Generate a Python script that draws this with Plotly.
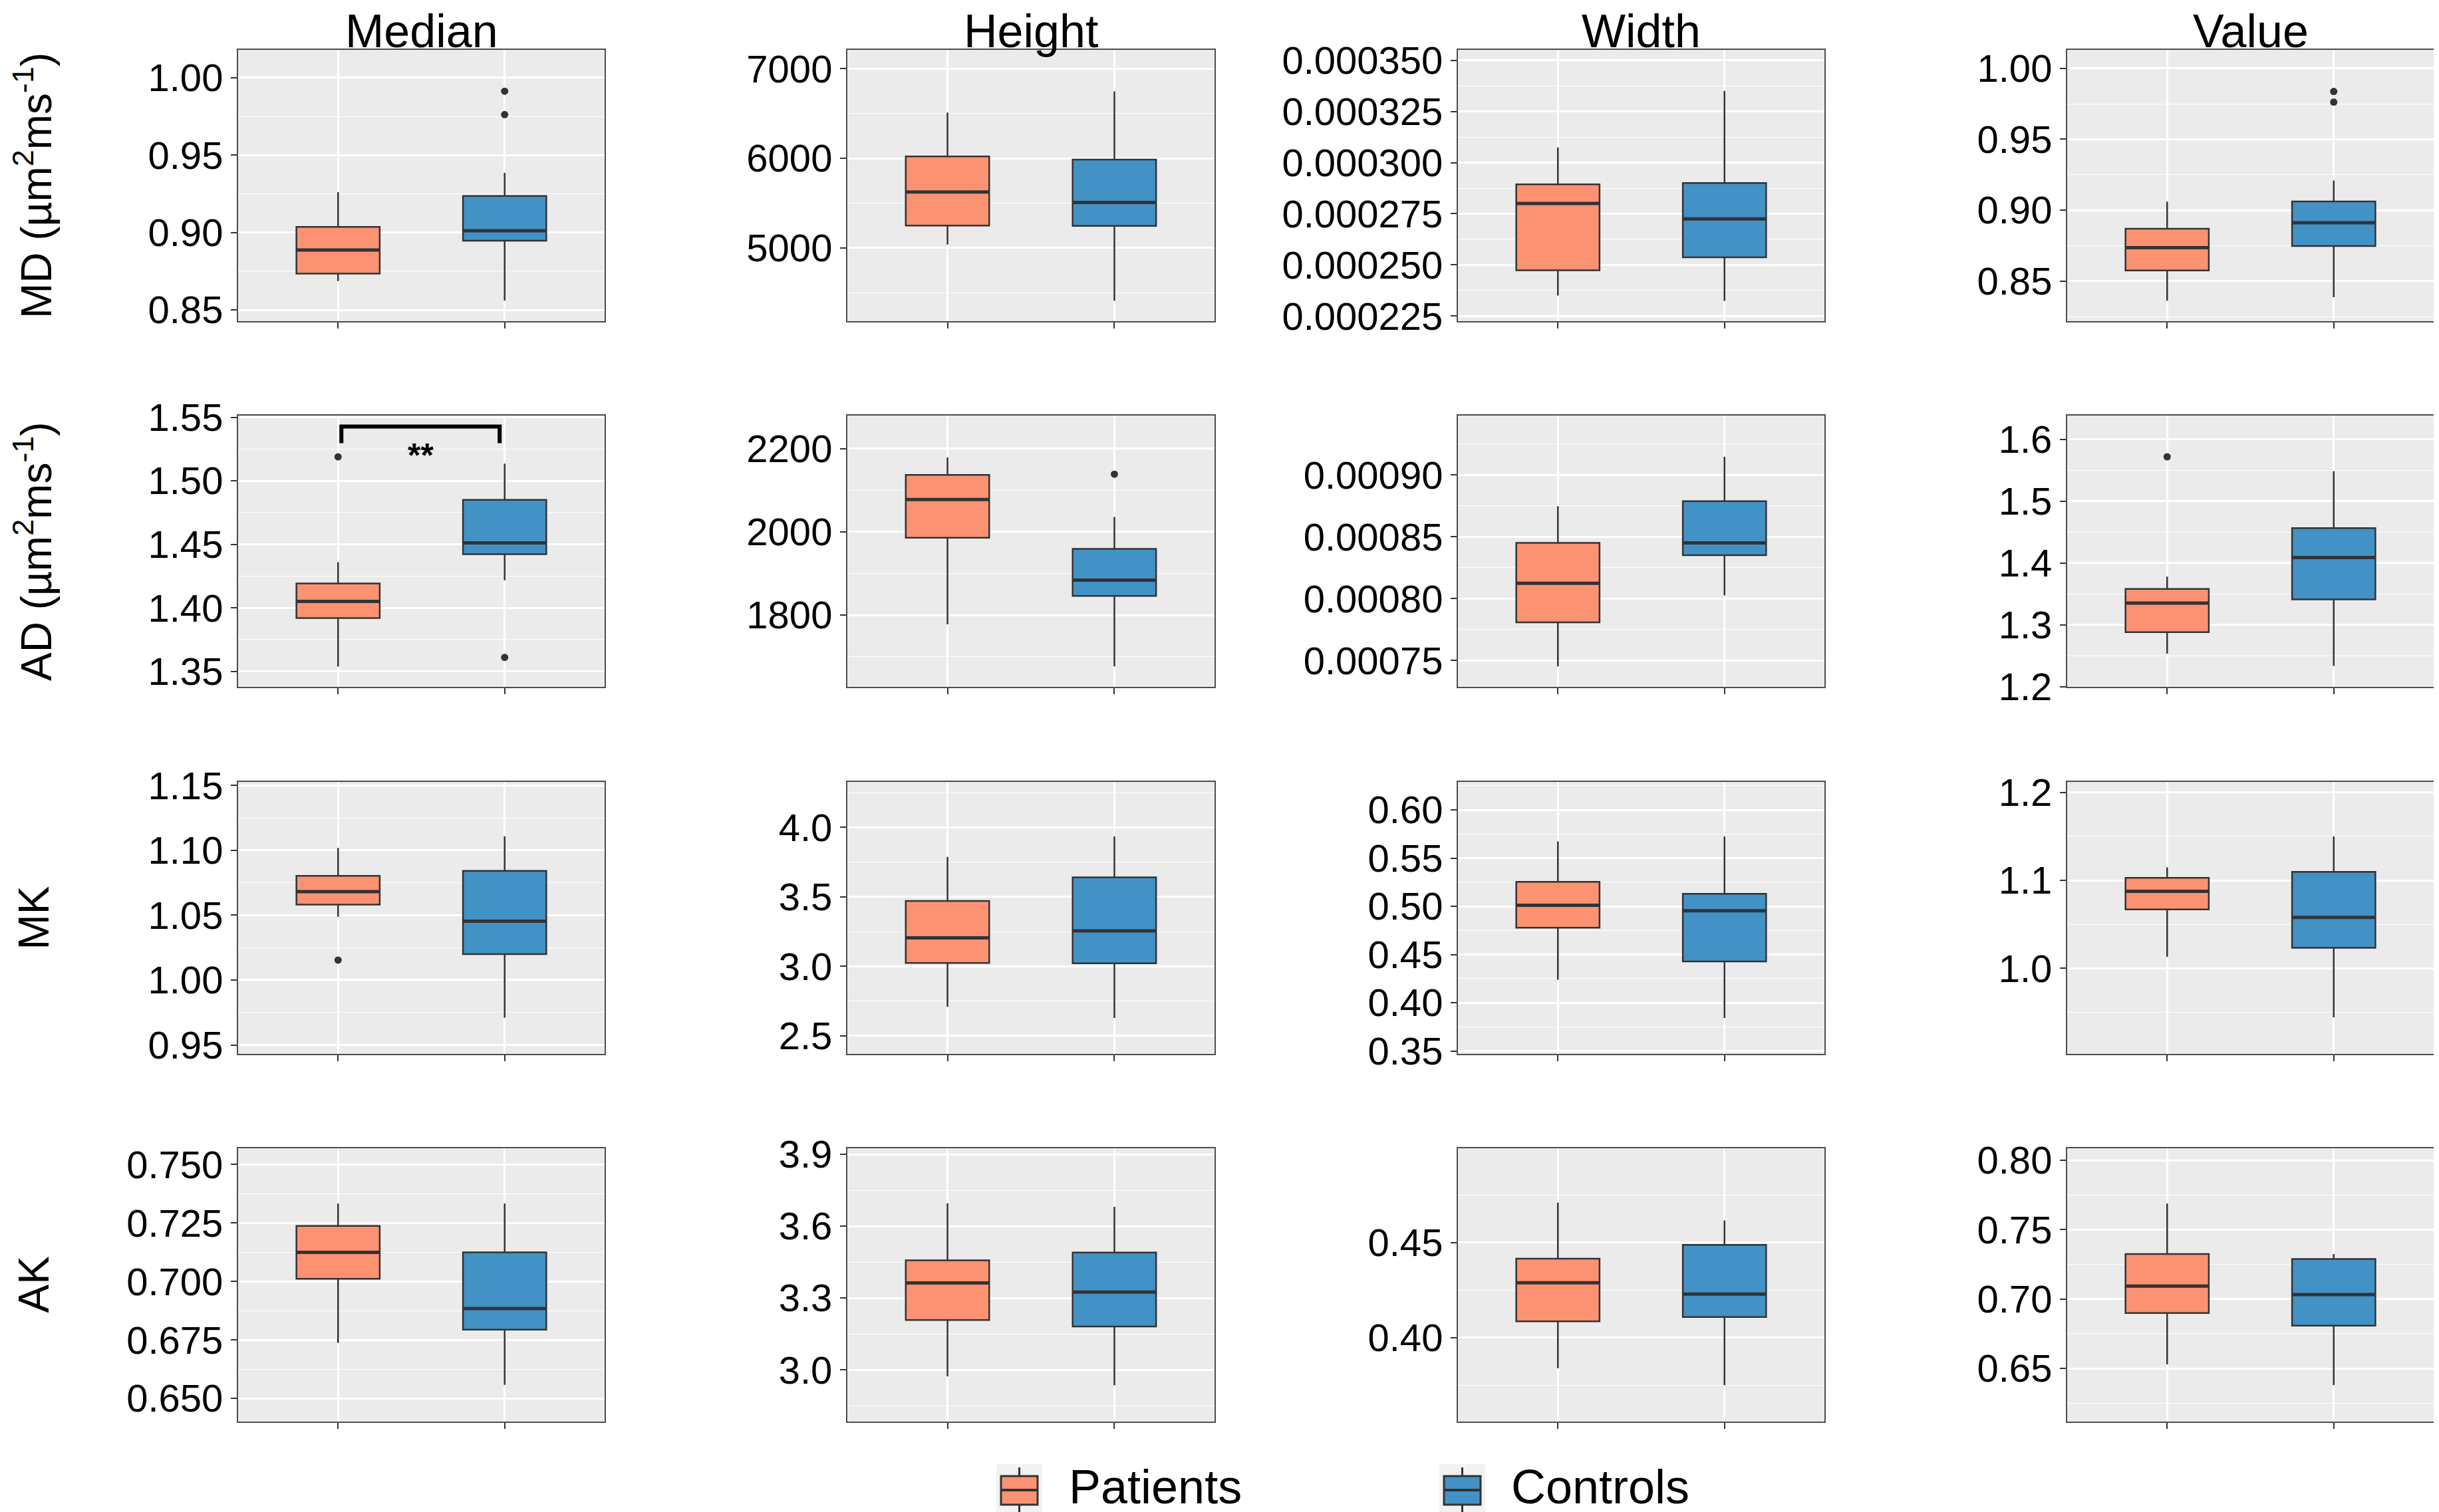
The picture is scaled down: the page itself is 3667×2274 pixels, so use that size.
import plotly.graph_objects as go
from plotly.subplots import make_subplots

W, H = 3667, 2274
OFF = 8  # browser body margin offset of the figure on the page
FONT = "Liberation Sans, Arial, sans-serif"

# ---------------- data ----------------
measures = ["Median", "Height", "Width", "Value"]
metrics = ["MD", "AD", "MK", "AK"]
row_titles = ["MD (\u00b5m<sup>2</sup>ms<sup>-1</sup>)", "AD (\u00b5m<sup>2</sup>ms<sup>-1</sup>)", "MK", "AK"]
groups = ["Patients", "Controls"]
group_x = [1, 2]
colors = ["#FC9272", "#4292C6"]

# panels in row-major order: MD-Median, MD-Height, MD-Width, MD-Value, AD-..., MK-..., AK-...
pat_low = [0.8686, 5037, 0.0002350, 0.8362, 1.3538, 1778, 0.0007451, 1.2534,
           1.0488, 2.709, 0.4238, 1.0131, 0.6737, 2.973, 0.3839, 0.6529]
pat_q1 = [0.8734, 5250, 0.0002474, 0.8575, 1.3920, 1986, 0.0007808, 1.2880,
          1.0581, 3.025, 0.4777, 1.0670, 0.7011, 3.208, 0.4085, 0.6899]
pat_med = [0.8887, 5625, 0.0002800, 0.8736, 1.4051, 2078, 0.0008124, 1.3350,
           1.0681, 3.205, 0.5010, 1.0875, 0.7124, 3.363, 0.4288, 0.7094]
pat_q3 = [0.9036, 6022, 0.0002894, 0.8869, 1.4192, 2137, 0.0008450, 1.3580,
          1.0803, 3.471, 0.5254, 1.1028, 0.7237, 3.457, 0.4415, 0.7325]
pat_high = [0.9260, 6512, 0.0003074, 0.9060, 1.4360, 2179, 0.0008746, 1.3778,
            1.1019, 3.788, 0.5673, 1.1148, 0.7333, 3.695, 0.4709, 0.7689]

con_low = [0.8560, 4410, 0.0002324, 0.8387, 1.4217, 1677, 0.0008025, 1.2333,
           0.9710, 2.629, 0.3841, 0.9443, 0.6558, 2.935, 0.3749, 0.6379]
con_q1 = [0.8947, 5245, 0.0002537, 0.8748, 1.4423, 1846, 0.0008351, 1.3409,
          1.0200, 3.022, 0.4427, 1.0233, 0.6794, 3.181, 0.4108, 0.6809]
con_med = [0.9011, 5508, 0.0002725, 0.8911, 1.4512, 1884, 0.0008450, 1.4086,
           1.0454, 3.255, 0.4953, 1.0580, 0.6884, 3.325, 0.4228, 0.7033]
con_q3 = [0.9236, 5986, 0.0002900, 0.9061, 1.4851, 1959, 0.0008788, 1.4563,
          1.0842, 3.640, 0.5130, 1.1097, 0.7124, 3.490, 0.4487, 0.7289]
con_high = [0.9385, 6747, 0.0003350, 0.9209, 1.5136, 2036, 0.0009146, 1.5484,
            1.1108, 3.935, 0.5725, 1.1500, 0.7333, 3.681, 0.4616, 0.7325]

# outliers: panel index -> values
pat_outliers = {4: [1.5189], 7: [1.5717], 8: [1.0154]}
con_outliers = {0: [0.9913, 0.9762], 3: [0.9837, 0.9762], 4: [1.3610], 5: [2138.7]}

# axis settings per panel
y_lo = [0.8427, 4182, 0.0002225, 0.8218, 1.3378, 1627.7, 0.0007286, 1.1995,
        0.9431, 2.3705, 0.3469, 0.9028, 0.6401, 2.784, 0.3558, 0.6117]
y_hi = [1.0180, 7211, 0.0003551, 1.0130, 1.5514, 2279.5, 0.0009480, 1.6384,
        1.1527, 4.327, 0.6290, 1.2119, 0.7569, 3.925, 0.4995, 0.8087]
y_dtick = [0.05, 1000, 0.000025, 0.05, 0.05, 200, 0.00005, 0.1,
           0.05, 0.5, 0.05, 0.1, 0.025, 0.3, 0.05, 0.05]
y_fmt = [".2f", "d", ".6f", ".2f", ".2f", "d", ".5f", ".1f",
         ".2f", ".1f", ".2f", ".1f", ".3f", ".1f", ".2f", ".2f"]

# significance annotation (AD - Median)
sig_panel = 4
sig_x = [1.02, 1.97]
sig_y = 1.5427
sig_tip = 1.5297
sig_label = "**"
sig_label_y = 1.520


# ---------------- layout geometry (page pixels) ----------------
def px(x):
    return (x - OFF) / W


def py(y):
    return 1 - (y - OFF) / H


col_px = [(358, 909), (1274, 1826), (2192, 2743), (3108, 3659)]
row_px = [(75, 483), (625, 1033), (1176, 1585), (1727, 2138)]

fig = make_subplots(rows=4, cols=4)

line_col = "#333333"
for i in range(16):
    r, c = divmod(i, 4)
    stats = [(pat_low, pat_q1, pat_med, pat_q3, pat_high, pat_outliers),
             (con_low, con_q1, con_med, con_q3, con_high, con_outliers)]
    for g, (lo, q1, md, q3, hi, outl) in enumerate(stats):
        fig.add_trace(go.Box(
            x=[group_x[g]], q1=[q1[i]], median=[md[i]], q3=[q3[i]],
            lowerfence=[lo[i]], upperfence=[hi[i]],
            width=0.5, whiskerwidth=0, boxpoints=False,
            fillcolor=colors[g], line=dict(color=line_col, width=2.5),
            name=groups[g], showlegend=False, hoverinfo="skip"),
            row=r + 1, col=c + 1)
        # thicker median line (ggplot style)
        fig.add_trace(go.Scatter(
            x=[group_x[g] - 0.25, group_x[g] + 0.25], y=[md[i], md[i]],
            mode="lines", line=dict(color=line_col, width=5),
            showlegend=False, hoverinfo="skip"),
            row=r + 1, col=c + 1)
        if i in outl:
            fig.add_trace(go.Scatter(
                x=[group_x[g]] * len(outl[i]), y=outl[i], mode="markers",
                marker=dict(color=line_col, size=11),
                showlegend=False, hoverinfo="skip"),
                row=r + 1, col=c + 1)

    xd = [px(col_px[c][0]), px(col_px[c][1])]
    yd = [py(row_px[r][1]), py(row_px[r][0])]
    fig.update_xaxes(domain=xd, range=[0.4, 2.6], tickvals=group_x,
                     showticklabels=False, ticks="outside", ticklen=9, tickwidth=2,
                     tickcolor=line_col, showgrid=True, gridcolor="white",
                     gridwidth=2.5, zeroline=False, showline=True, mirror=True,
                     linecolor="#4d4d4d", linewidth=2, automargin=False,
                     row=r + 1, col=c + 1)
    fig.update_yaxes(domain=yd, range=[y_lo[i], y_hi[i]], tick0=0,
                     dtick=y_dtick[i], tickformat=y_fmt[i], ticks="outside",
                     ticklen=9, tickwidth=2, tickcolor=line_col,
                     tickfont=dict(family=FONT, size=58, color="black"),
                     showgrid=True, gridcolor="white", gridwidth=2.5,
                     minor=dict(dtick=y_dtick[i] / 2, showgrid=True,
                                gridcolor="white", gridwidth=1.2, ticks=""),
                     zeroline=False, showline=True, mirror=True,
                     linecolor="#4d4d4d", linewidth=2, automargin=False,
                     row=r + 1, col=c + 1)

# significance bracket
sr, sc = divmod(sig_panel, 4)
fig.add_trace(go.Scatter(
    x=[sig_x[0], sig_x[0], sig_x[1], sig_x[1]],
    y=[sig_tip, sig_y, sig_y, sig_tip], mode="lines",
    line=dict(color="black", width=6), showlegend=False, hoverinfo="skip"),
    row=sr + 1, col=sc + 1)
fig.add_annotation(x=(sig_x[0] + sig_x[1]) / 2, y=sig_label_y, text="<b>" + sig_label + "</b>",
                   showarrow=False, font=dict(family=FONT, size=50, color="black"),
                   xref="x%d" % (sig_panel + 1), yref="y%d" % (sig_panel + 1))

annotations = []
# column titles
for c, t in enumerate(measures):
    annotations.append(dict(x=px((col_px[c][0] + col_px[c][1]) / 2), y=py(47),
                            xref="paper", yref="paper", text=t, showarrow=False,
                            xanchor="center", yanchor="middle",
                            font=dict(family=FONT, size=70, color="black")))
# row titles
for r, t in enumerate(row_titles):
    annotations.append(dict(x=px(50), y=py((row_px[r][0] + row_px[r][1]) / 2),
                            xref="paper", yref="paper", text=t, showarrow=False,
                            textangle=-90, xanchor="center", yanchor="middle",
                            font=dict(family=FONT, size=64, color="black")))

# custom legend (ggplot-like keys)
shapes = []
key_x = [(1498, 1567), (2164, 2233)]
text_x = [1605, 2270]
ky0, ky1 = 2202, 2278
for g in range(2):
    x0, x1 = key_x[g]
    xm = (x0 + x1) / 2
    shapes.append(dict(type="rect", xref="paper", yref="paper",
                       x0=px(x0), x1=px(x1), y0=py(ky1), y1=py(ky0),
                       fillcolor="#F2F2F2", line=dict(width=0), layer="above"))
    shapes.append(dict(type="line", xref="paper", yref="paper",
                       x0=px(xm), x1=px(xm), y0=py(2274), y1=py(2207),
                       line=dict(color=line_col, width=3), layer="above"))
    shapes.append(dict(type="rect", xref="paper", yref="paper",
                       x0=px(x0 + 7), x1=px(x1 - 7), y0=py(2263), y1=py(2220),
                       fillcolor=colors[g], line=dict(color=line_col, width=3), layer="above"))
    shapes.append(dict(type="line", xref="paper", yref="paper",
                       x0=px(x0 + 7), x1=px(x1 - 7), y0=py(2241), y1=py(2241),
                       line=dict(color=line_col, width=4), layer="above"))
    annotations.append(dict(x=px(text_x[g]), y=py(2236), xref="paper", yref="paper",
                            text=groups[g], showarrow=False, xanchor="left",
                            yanchor="middle",
                            font=dict(family=FONT, size=72, color="black")))

fig.update_layout(
    width=W, height=H, margin=dict(l=0, r=0, t=0, b=0, autoexpand=False),
    paper_bgcolor="white", plot_bgcolor="#EBEBEB",
    showlegend=False, font=dict(family=FONT, color="black"),
    shapes=shapes,
)
for a in annotations:
    fig.add_annotation(**a)

fig.write_html("out.html")
